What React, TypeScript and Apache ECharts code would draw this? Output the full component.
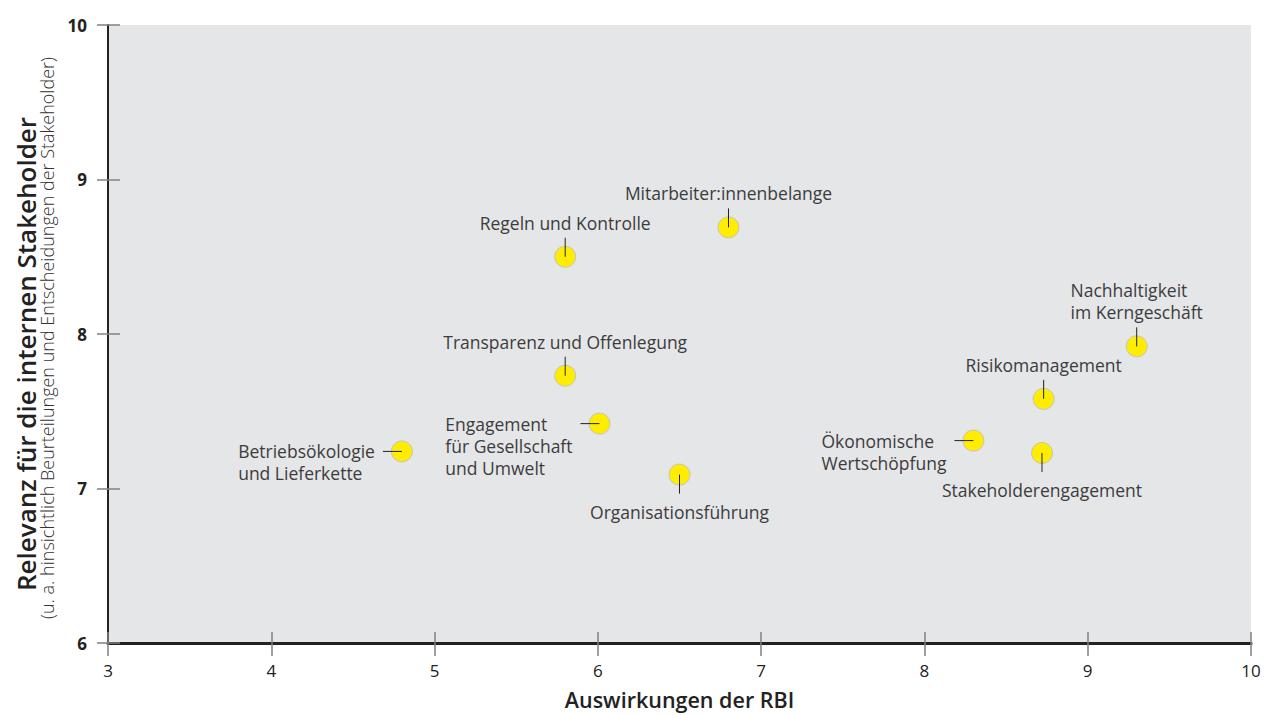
import React, { useEffect, useRef } from "react";
import * as echarts from "echarts";

// ---- data ----
const topicNames = [
  "Betriebsökologie\nund Lieferkette",
  "Regeln und Kontrolle",
  "Mitarbeiter:innenbelange",
  "Transparenz und Offenlegung",
  "Engagement\nfür Gesellschaft\nund Umwelt",
  "Organisationsführung",
  "Ökonomische\nWertschöpfung",
  "Risikomanagement",
  "Stakeholderengagement",
  "Nachhaltigkeit\nim Kerngeschäft",
];
const impactRBI = [4.8, 5.8, 6.8, 5.8, 6.01, 6.5, 8.3, 8.73, 8.72, 9.3];
const relevanceInternal = [7.24, 8.5, 8.69, 7.73, 7.42, 7.09, 7.31, 7.58, 7.23, 7.92];
const labelSide = ["left", "top", "top", "top", "left", "bottom", "left", "top", "bottom", "top"];

const xTicks = [3, 4, 5, 6, 7, 8, 9, 10];
const yTicks = [6, 7, 8, 9, 10];
const xTitle = "Auswirkungen der RBI";
const yTitle = "Relevanz für die internen Stakeholder";
const ySubTitle = "(u. a. hinsichtlich Beurteilungen und Entscheidungen der Stakeholder)";

const FONT = "'Open Sans', 'Noto Sans', sans-serif";
const TEXT_COLOR = "#3c3c3c";

export default function App() {
  const ref = useRef<HTMLDivElement>(null);

  useEffect(() => {
    if (!ref.current) return;
    const chart = echarts.init(ref.current, undefined, { renderer: "svg" });

    const points = impactRBI.map((x, i) => [x, relevanceInternal[i], i]);

    const rich = {
      l: { align: "left", fontFamily: FONT, fontSize: 17.5, lineHeight: 22, color: TEXT_COLOR },
    };

    const axisCommonX = {
      type: "value",
      min: xTicks[0],
      max: xTicks[xTicks.length - 1],
      interval: 1,
      position: "bottom",
      splitLine: { show: false },
    };
    const axisCommonY = {
      type: "value",
      min: yTicks[0],
      max: yTicks[yTicks.length - 1],
      interval: 1,
      position: "left",
      splitLine: { show: false },
    };

    const option: any = {
      animation: false,
      grid: {
        left: 108,
        right: 20,
        top: 25,
        bottom: 72,
        show: true,
        backgroundColor: "#e5e6e8",
        borderWidth: 0,
        containLabel: false,
        outerBoundsMode: "none",
      },
      xAxis: [
        {
          ...axisCommonX,
          name: xTitle,
          nameLocation: "middle",
          nameGap: 45,
          nameTextStyle: { fontFamily: FONT, fontSize: 21.5, fontWeight: 600, color: "#222" },
          axisLine: { show: true, lineStyle: { color: "#222", width: 3 } },
          axisTick: { show: true, inside: true, length: 11, lineStyle: { color: "#808080", width: 1.5 } },
          axisLabel: { margin: 19, fontFamily: FONT, fontSize: 17, color: "#222" },
        },
        {
          ...axisCommonX,
          axisLine: { show: false },
          axisTick: { show: true, inside: false, length: 13, lineStyle: { color: "#808080", width: 1.5 } },
          axisLabel: { show: false },
        },
      ],
      yAxis: [
        {
          ...axisCommonY,
          axisLine: { show: true, lineStyle: { color: "#222", width: 2 } },
          axisTick: { show: true, inside: true, length: 12, lineStyle: { color: "#808080", width: 1.5 } },
          axisLabel: { margin: 21, fontFamily: FONT, fontSize: 17, fontWeight: "bold", color: "#222" },
        },
        {
          ...axisCommonY,
          axisLine: { show: false },
          axisTick: { show: true, inside: false, length: 11, lineStyle: { color: "#808080", width: 1.5 } },
          axisLabel: { show: false },
        },
      ],
      graphic: [
        {
          type: "text",
          x: 26,
          y: 354,
          rotation: Math.PI / 2,
          style: {
            text: yTitle,
            align: "center",
            verticalAlign: "middle",
            font: `600 26px ${FONT}`,
            fill: "#222",
          },
        },
        {
          type: "text",
          x: 47,
          y: 338,
          rotation: Math.PI / 2,
          style: {
            text: ySubTitle,
            align: "center",
            verticalAlign: "middle",
            font: `300 18px ${FONT}`,
            fill: "#333",
          },
        },
      ],
      series: [
        {
          type: "scatter",
          xAxisIndex: 0,
          yAxisIndex: 0,
          data: points,
          symbolSize: 21,
          itemStyle: { color: "#ffed00", borderColor: "#c4c4c4", borderWidth: 1, opacity: 1 },
          z: 2,
        },
        {
          type: "custom",
          xAxisIndex: 0,
          yAxisIndex: 0,
          data: points,
          clip: false,
          z: 3,
          renderItem: (params: any, api: any) => {
            const i = api.value(2);
            const [cx, cy] = api.coord([api.value(0), api.value(1)]);
            const side = labelSide[i];
            const L = 19;
            const text = topicNames[i]
              .split("\n")
              .map((s) => `{l|${s}}`)
              .join("\n");
            let shape: any;
            let ts: any;
            if (side === "top") {
              shape = { x1: cx, y1: cy, x2: cx, y2: cy - L };
              ts = { x: cx, y: cy - L - 4, align: "center", verticalAlign: "bottom" };
            } else if (side === "bottom") {
              shape = { x1: cx, y1: cy, x2: cx, y2: cy + L };
              ts = { x: cx, y: cy + L + 7, align: "center", verticalAlign: "top" };
            } else {
              shape = { x1: cx, y1: cy, x2: cx - L, y2: cy };
              ts = { x: cx - L - 8, y: cy - 11, align: "right", verticalAlign: "top" };
            }
            return {
              type: "group",
              children: [
                { type: "line", shape, style: { stroke: "#222", lineWidth: 1 } },
                {
                  type: "text",
                  style: {
                    ...ts,
                    text,
                    rich,
                    font: `17.5px ${FONT}`,
                    fill: TEXT_COLOR,
                  },
                },
              ],
            };
          },
        },
      ],
    };

    chart.setOption(option);
    return () => chart.dispose();
  }, []);

  return (
    <div
      ref={ref}
      style={{ position: "fixed", left: 0, top: 0, width: 1271, height: 715, background: "#fff" }}
    />
  );
}
